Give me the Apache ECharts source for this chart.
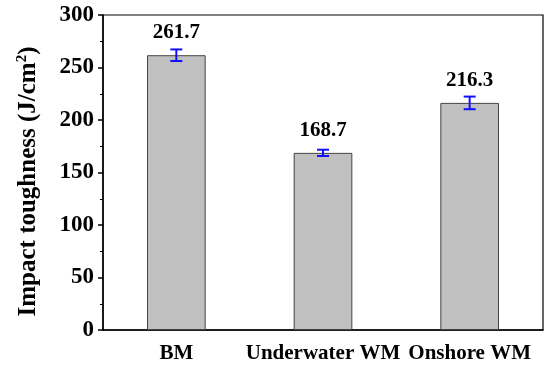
<!DOCTYPE html>
<html>
<head>
<meta charset="utf-8">
<script src="https://cdn.jsdelivr.net/npm/echarts@6/dist/echarts.min.js"></script>
<style>html,body{margin:0;padding:0;background:#fff;}#c{width:550px;height:366px;}</style>
</head>
<body>
<div id="c"></div>
<script>
var categories = ['BM', 'Underwater WM', 'Onshore WM'];
var values = [261.7, 168.7, 216.3];
var errors = [5.5, 3, 6];
var valueLabels = ['261.7', '168.7', '216.3'];
var yTicks = [0, 50, 100, 150, 200, 250, 300];

var FONT = '"Liberation Serif", "Times New Roman", serif';
var chart = echarts.init(document.getElementById('c'), null, {renderer: 'canvas'});

var errData = values.map(function (v, i) { return [i, v - errors[i], v + errors[i], v]; });

chart.setOption({
  animation: false,
  backgroundColor: '#fff',
  grid: {left: 103, right: 7, top: 15, bottom: 36, show: true, borderColor: '#000', borderWidth: 1.2, backgroundColor: 'transparent'},
  xAxis: {
    type: 'category',
    data: categories,
    axisLine: {lineStyle: {color: '#000', width: 1.5}},
    axisTick: {alignWithLabel: true, length: 5, lineStyle: {color: '#000', width: 1.5}},
    axisLabel: {interval: 0, color: '#000', fontFamily: FONT, fontWeight: 'bold', fontSize: 21, margin: 13}
  },
  yAxis: {
    type: 'value',
    min: yTicks[0],
    max: yTicks[yTicks.length - 1],
    interval: yTicks[1] - yTicks[0],
    splitLine: {show: false},
    axisLine: {show: true, lineStyle: {color: '#000', width: 1.5}},
    axisTick: {show: true, length: 5, lineStyle: {color: '#000', width: 1.5}},
    minorTick: {show: true, splitNumber: 2, length: 3, lineStyle: {color: '#000', width: 1}},
    axisLabel: {color: '#000', fontFamily: FONT, fontWeight: 'bold', fontSize: 23, margin: 9},
    name: '{a|Impact toughness (J/cm}{s|2}{a|)}',
    nameLocation: 'middle',
    nameGap: 60,
    nameTextStyle: {
      color: '#000', fontFamily: FONT, fontWeight: 'bold', fontSize: 25,
      padding: [0, 18, 0, 0],
      rich: {
        a: {color: '#000', fontFamily: FONT, fontWeight: 'bold', fontSize: 25},
        s: {color: '#000', fontFamily: FONT, fontWeight: 'bold', fontSize: 15, padding: [0, 0, 13, 0]}
      }
    }
  },
  series: [
    {
      type: 'bar',
      data: values,
      barWidth: '40%',
      itemStyle: {color: '#c0c0c0', borderColor: '#444', borderWidth: 1},
      label: {
        show: true, position: 'top', distance: 12,
        color: '#000', fontFamily: FONT, fontWeight: 'bold', fontSize: 21,
        formatter: function (p) { return valueLabels[p.dataIndex]; }
      },
      z: 2
    },
    {
      type: 'custom',
      data: errData,
      z: 3,
      renderItem: function (params, api) {
        var x = api.value(0);
        var lo = api.coord([x, api.value(1)]);
        var hi = api.coord([x, api.value(2)]);
        var hw = 6;
        var st = {stroke: '#1010ff', lineWidth: 2};
        return {
          type: 'group',
          children: [
            {type: 'line', shape: {x1: lo[0], y1: lo[1], x2: hi[0], y2: hi[1]}, style: st},
            {type: 'line', shape: {x1: lo[0] - hw, y1: lo[1], x2: lo[0] + hw, y2: lo[1]}, style: st},
            {type: 'line', shape: {x1: hi[0] - hw, y1: hi[1], x2: hi[0] + hw, y2: hi[1]}, style: st}
          ]
        };
      }
    }
  ]
});
</script>
</body>
</html>
